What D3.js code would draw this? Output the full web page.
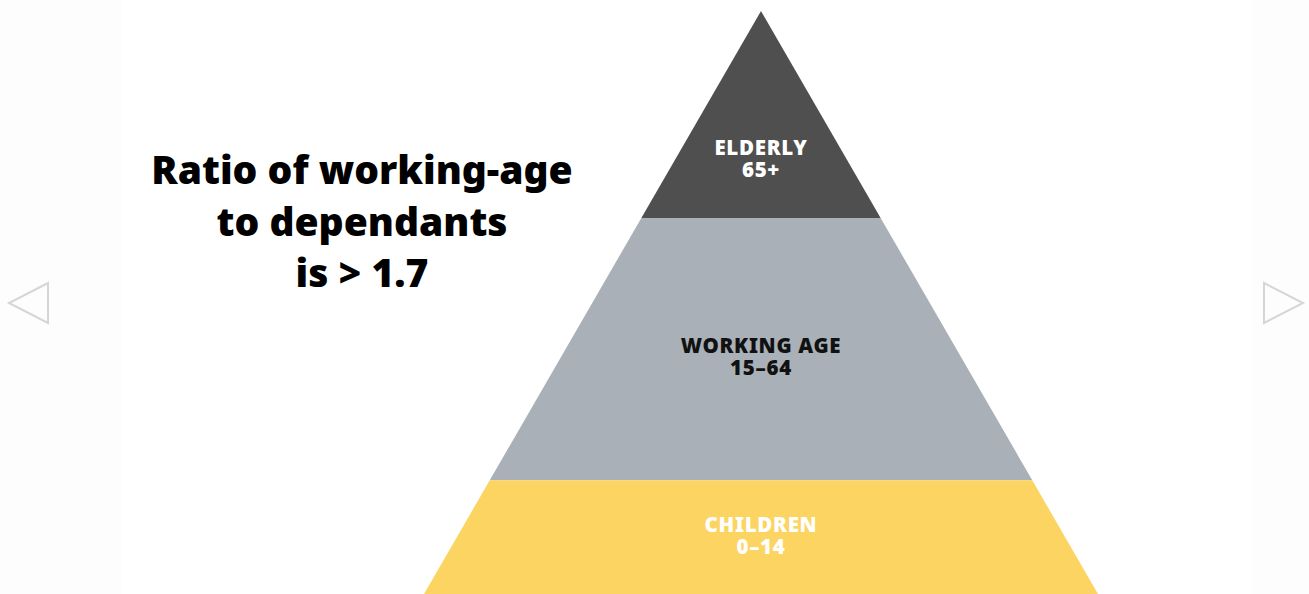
<!DOCTYPE html>
<html>
<head>
<meta charset="utf-8">
<script src="https://cdn.jsdelivr.net/npm/d3@7"></script>
<style>
  html, body { margin: 0; padding: 0; background: #fdfdfd; }
  #wrap { position: relative; width: 1309px; height: 594px; }
  svg { display: block; }
  text, .lab { font-family: "Noto Sans", "Open Sans", sans-serif; font-weight: 900; }
  .lab { position: absolute; text-align: center; font-size: 20.5px; line-height: 22px;
         letter-spacing: 0.7px; white-space: nowrap; transform: translateX(-50%); }
</style>
</head>
<body>
<div id="wrap"><svg id="chart" width="1309" height="594"></svg></div>
<script>
// Age bands of the population pyramid, top to bottom
const categories = ["ELDERLY", "WORKING AGE", "CHILDREN"];
const ageRanges = ["65+", "15–64", "0–14"];
// Share of the pyramid's height taken by each band
const bandShares = [0.355, 0.45, 0.195];
// Headline lines
const titleLines = ["Ratio of working-age", "to dependants", "is > 1.7"];

const fills = ["#4f4f4f", "#a9b0b7", "#fcd462"];
const labelFills = ["#ffffff", "#111111", "#ffffff"];
const labelAt = [0.715, 0.53, 0.49];

const W = 1309, H = 594;
const svg = d3.select("#chart");

// white panel
svg.append("rect").attr("x", 122).attr("y", 0).attr("width", 1130).attr("height", H).attr("fill", "#ffffff");

const apexX = 761;
const y = d3.scaleLinear().domain([0, 1]).range([11, 594]);
const half = d3.scaleLinear().domain([0, 1]).range([0, 337]);

let acc = 0;
const bands = categories.map((c, i) => {
  const b = { name: c, range: ageRanges[i], t0: acc, t1: acc + bandShares[i], i };
  acc += bandShares[i];
  return b;
});

const line = d3.line();
svg.append("g").selectAll("path.band").data(bands).join("path")
  .attr("class", "band")
  .attr("fill", d => fills[d.i])
  .attr("d", d => line([
    [apexX - half(d.t0), y(d.t0)],
    [apexX + half(d.t0), y(d.t0)],
    [apexX + half(d.t1), y(d.t1)],
    [apexX - half(d.t1), y(d.t1)]
  ]) + "Z");

// two-line band labels (name over age range), set as one block each
const baseline = d => y(d.t0 + (d.t1 - d.t0) * labelAt[d.i]) - 4;
d3.select("#wrap").selectAll("div.lab").data(bands).join("div")
  .attr("class", "lab")
  .style("left", apexX + "px")
  .style("top", d => (baseline(d) - 19) + "px")
  .style("color", d => labelFills[d.i])
  .html(d => d.name + "<br>" + d.range);

// headline
svg.append("g").selectAll("text").data(titleLines).join("text")
  .attr("text-anchor", "middle")
  .attr("fill", "#000")
  .style("font-size", "39px")
  .attr("x", 362)
  .attr("y", (d, i) => 184 + i * 51.5)
  .text(d => d);

// navigation arrows
const arrow = d3.line();
svg.append("path")
  .attr("d", arrow([[48, 283], [9, 303], [48, 323]]) + "Z")
  .attr("fill", "none").attr("stroke", "#d6d6d6").attr("stroke-width", 2);
svg.append("path")
  .attr("d", arrow([[1264, 283], [1303, 303], [1264, 323]]) + "Z")
  .attr("fill", "none").attr("stroke", "#d6d6d6").attr("stroke-width", 2);
</script>
</body>
</html>
